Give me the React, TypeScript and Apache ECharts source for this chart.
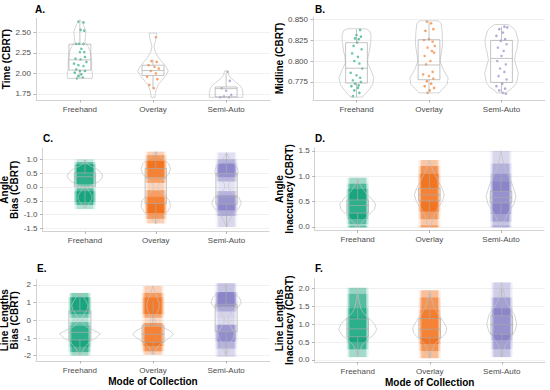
import React, { useEffect, useRef } from "react";
import * as echarts from "echarts";

const CATEGORIES = ["Freehand", "Overlay", "Semi-Auto"];
const GROUP_COLORS = ["#17a67f", "#f37521", "#8b86c9"];
const X_AXIS_TITLE = "Mode of Collection";

// ---------- Panel A: Time (CBRT)
const A_TICKS = [1.75, 2.0, 2.25, 2.5];
const A_FREEHAND_POINTS = [[-0.02,2.63],[0.05,2.62],[0.01,2.53],[0.06,2.52],[-0.05,2.36],[-0.01,2.36],[0.05,2.36],[0.0,2.26],[0.06,2.26],[-0.06,2.18],[0.01,2.17],[0.07,2.2],[-0.02,2.1],[0.05,2.09],[-0.05,2.05],[0.0,2.03],[0.07,2.03],[-0.07,2.01],[0.02,1.99],[-0.02,1.97],[0.04,1.95],[-0.04,1.94],[0.09,2.14],[0.02,2.3],[-0.08,2.12]];
const A_OVERLAY_POINTS = [[0.04,2.44],[-0.02,2.15],[0.05,2.14],[-0.06,2.1],[0.02,2.08],[0.08,2.06],[-0.03,2.03],[0.04,2.0],[-0.08,1.96],[0.06,1.93],[-0.05,1.86],[0.01,1.82]];
const A_SEMIAUTO_POINTS = [[0.02,2.02],[0.05,1.91],[-0.06,1.82],[0.0,1.79],[0.07,1.74],[-0.03,1.72],[0.04,1.71],[-0.08,1.71]];
const A_FREEHAND_VIOLIN = [[2.65,0.5],[2.59,3.5],[2.51,6],[2.45,5.5],[2.39,5],[2.33,8],[2.25,10.5],[2.15,11.5],[2.06,11.5],[1.98,12.5],[1.94,12]];
const A_OVERLAY_VIOLIN = [[2.49,3.7],[2.45,3.5],[2.4,2.5],[2.33,1],[2.27,2],[2.2,5],[2.14,9],[2.08,13],[2.03,15],[1.98,13],[1.92,9],[1.86,5],[1.8,3],[1.74,2],[1.71,2]];
const A_SEMIAUTO_VIOLIN = [[2.03,1.5],[1.98,2.5],[1.94,5],[1.9,9],[1.86,13],[1.82,15.5],[1.77,16.5],[1.71,16.5]];
const A_BOXES = [[1.94,2.04,2.165,2.355,2.63],[1.82,1.975,2.035,2.1,2.17],[1.71,1.715,1.815,1.835,2.0]];

// ---------- Panel B: Midline (CBRT)
const B_TICKS = [0.775, 0.8, 0.825, 0.85];
const B_FREEHAND_POINTS = [[0.05,0.837],[0.0,0.831],[0.06,0.829],[-0.02,0.827],[0.03,0.826],[0.01,0.822],[-0.04,0.818],[0.07,0.814],[-0.06,0.809],[0.02,0.805],[-0.03,0.8],[0.04,0.797],[0.08,0.791],[-0.08,0.786],[0.0,0.783],[0.05,0.78],[-0.05,0.777],[0.06,0.775],[-0.02,0.773],[0.03,0.771],[-0.07,0.77],[0.02,0.768],[-0.03,0.765],[0.04,0.762],[-0.05,0.758]];
const B_OVERLAY_POINTS = [[-0.03,0.847],[0.03,0.845],[0.06,0.838],[-0.05,0.836],[0.0,0.826],[-0.07,0.825],[0.05,0.823],[0.08,0.818],[-0.02,0.816],[0.04,0.812],[0.07,0.81],[-0.06,0.806],[0.02,0.8],[-0.04,0.796],[0.05,0.787],[-0.08,0.784],[0.0,0.782],[0.06,0.779],[-0.03,0.776],[0.03,0.773],[-0.06,0.77],[0.07,0.768],[0.01,0.765],[-0.02,0.762]];
const B_SEMIAUTO_POINTS = [[0.04,0.841],[0.08,0.84],[-0.03,0.838],[0.02,0.834],[-0.07,0.83],[0.05,0.826],[-0.01,0.824],[0.07,0.82],[-0.05,0.816],[0.03,0.812],[0.0,0.806],[-0.06,0.8],[0.06,0.796],[-0.02,0.791],[0.04,0.787],[-0.04,0.782],[0.07,0.778],[0.01,0.773],[-0.07,0.77],[0.05,0.767],[-0.03,0.765],[0.02,0.762],[0.06,0.761]];
const B_FREEHAND_VIOLIN = [[0.8385,9],[0.836,13],[0.83,14.5],[0.822,14],[0.813,13],[0.805,11.5],[0.798,11],[0.79,14],[0.78,17.3],[0.772,16],[0.765,12],[0.76,8],[0.757,6]];
const B_OVERLAY_VIOLIN = [[0.848,9],[0.845,12],[0.835,13],[0.82,13.5],[0.808,12],[0.8,11],[0.79,14],[0.78,19],[0.772,18],[0.766,13],[0.762,10]];
const B_SEMIAUTO_VIOLIN = [[0.8435,6.7],[0.84,11],[0.836,14],[0.825,16.5],[0.815,15.5],[0.809,14],[0.801,13],[0.7855,16.7],[0.774,15],[0.768,11],[0.764,6],[0.762,5]];
const B_BOXES = [[0.757,0.7738,0.7914,0.8219,0.838],[0.762,0.7777,0.7953,0.8254,0.847],[0.762,0.7745,0.8031,0.8246,0.841]];

// ---------- Panel C: Angle Bias (CBRT)  strips: [from, to, density]
const C_TICKS = [-1.5, -1.0, -0.5, 0.0, 0.5, 1.0];
const C_FREEHAND_STRIP = [[0.9,1.0,0.15],[0.82,0.9,0.5],[0.1,0.82,1],[0.04,0.1,0.55],[-0.05,0.04,0.15],[-0.15,-0.05,0.55],[-0.55,-0.15,1],[-0.65,-0.55,0.6],[-0.8,-0.65,0.2]];
const C_OVERLAY_STRIP = [[1.15,1.28,0.2],[0.95,1.15,0.55],[0.35,0.95,1],[0.15,0.35,0.6],[-0.12,0.15,0.2],[-0.35,-0.12,0.6],[-0.95,-0.35,1],[-1.15,-0.95,0.55],[-1.32,-1.15,0.2]];
const C_SEMIAUTO_STRIP = [[1.0,1.25,0.15],[0.85,1.0,0.45],[0.35,0.85,0.95],[0.2,0.35,0.5],[-0.15,0.2,0.15],[-0.3,-0.15,0.5],[-0.85,-0.3,0.95],[-1.05,-0.85,0.5],[-1.45,-1.05,0.2]];
const C_FREEHAND_VIOLIN = [[0.98,0],[0.85,2],[0.75,6],[0.65,12],[0.5,17],[0.4,18],[0.3,17],[0.2,14],[0.1,9],[0.03,4],[-0.05,2],[-0.15,4],[-0.3,7],[-0.45,7],[-0.6,4],[-0.75,1]];
const C_OVERLAY_VIOLIN = [[1.28,0],[1.15,3],[1.0,8],[0.85,13],[0.65,15],[0.45,13],[0.3,8],[0.15,4],[0.0,2],[-0.15,4],[-0.3,9],[-0.5,14],[-0.7,15],[-0.9,12],[-1.05,7],[-1.2,3],[-1.32,0]];
const C_SEMIAUTO_VIOLIN = [[1.25,0],[1.1,2],[0.9,6],[0.7,11],[0.55,12],[0.4,10],[0.25,5],[0.1,2],[-0.05,2],[-0.2,6],[-0.4,13],[-0.6,15],[-0.8,12],[-1.0,6],[-1.2,3],[-1.45,0]];
const C_BOXES = [[-0.72,0.01,0.37,0.51,0.98],[-1.32,-0.6,0.33,0.67,1.27],[-1.44,-0.62,-0.36,0.49,1.2]];

// ---------- Panel D: Angle Inaccuracy (CBRT)
const D_TICKS = [0.0, 0.5, 1.0, 1.5];
const D_FREEHAND_STRIP = [[0.85,0.97,0.25],[0.75,0.85,0.6],[0.15,0.75,1],[0.05,0.15,0.55],[0.02,0.05,0.2],[-0.012,0.02,0.55]];
const D_OVERLAY_STRIP = [[1.2,1.32,0.25],[1.05,1.2,0.6],[0.3,1.05,1],[0.15,0.3,0.55],[0.03,0.15,0.25],[-0.012,0.03,0.5]];
const D_SEMIAUTO_STRIP = [[1.25,1.5,0.2],[1.05,1.25,0.45],[0.9,1.05,0.75],[0.25,0.9,1],[0.1,0.25,0.6],[0.03,0.1,0.3],[-0.012,0.03,0.5]];
const D_FREEHAND_VIOLIN = [[0.96,0],[0.85,2],[0.75,5],[0.65,9],[0.55,14],[0.45,18],[0.35,17],[0.25,12],[0.15,7],[0.05,3],[0.0,2]];
const D_OVERLAY_VIOLIN = [[1.32,0],[1.2,2],[1.05,5],[0.9,9],[0.75,13],[0.63,15],[0.5,13],[0.35,8],[0.2,4],[0.05,2],[0.0,1]];
const D_SEMIAUTO_VIOLIN = [[1.5,0],[1.3,2],[1.1,5],[0.95,9],[0.8,12],[0.6,15],[0.45,13],[0.3,8],[0.15,4],[0.05,2],[0.0,1]];
const D_BOXES = [[0.0,0.27,0.42,0.53,0.92],[0.14,0.51,0.63,0.76,1.13],[0.12,0.47,0.58,0.7,1.05]];

// ---------- Panel E: Line Lengths Bias (CBRT)
const E_TICKS = [-2, -1, 0, 1, 2];
const E_FREEHAND_STRIP = [[1.3,1.55,0.35],[0.35,1.3,1],[0.15,0.35,0.5],[-0.1,0.15,0.2],[-0.3,-0.1,0.55],[-1.5,-0.3,1],[-1.8,-1.5,0.65],[-2.0,-1.8,0.25]];
const E_OVERLAY_STRIP = [[1.55,1.95,0.2],[1.3,1.55,0.55],[0.35,1.3,0.9],[0.15,0.35,0.45],[-0.15,0.15,0.15],[-0.35,-0.15,0.6],[-1.45,-0.35,1],[-1.75,-1.45,0.6],[-1.95,-1.75,0.2]];
const E_SEMIAUTO_STRIP = [[1.6,2.1,0.3],[0.75,1.6,1],[0.5,0.75,0.6],[0.1,0.5,0.25],[-0.25,0.1,0.2],[-1.2,-0.25,0.85],[-1.6,-1.2,0.45],[-2.06,-1.6,0.2]];
const E_FREEHAND_VIOLIN = [[1.55,0],[1.35,3],[1.1,6],[0.85,8],[0.6,7],[0.35,4],[0.1,2],[-0.1,2],[-0.35,6],[-0.55,13],[-0.75,20],[-0.95,17],[-1.2,10],[-1.5,5],[-1.8,2],[-2.0,0]];
const E_OVERLAY_VIOLIN = [[1.95,0],[1.6,2],[1.3,4],[1.0,6],[0.7,6],[0.4,4],[0.1,2],[-0.15,3],[-0.4,10],[-0.6,17],[-0.8,20],[-1.0,16],[-1.25,9],[-1.5,4],[-1.8,2],[-1.95,0]];
const E_SEMIAUTO_VIOLIN = [[2.1,0],[1.85,2],[1.6,7],[1.3,13],[1.0,15],[0.75,12],[0.5,6],[0.2,2],[-0.1,2],[-0.4,5],[-0.7,8],[-1.0,7],[-1.3,4],[-1.7,2],[-2.06,0]];
const E_BOXES = [[-1.95,-1.11,-0.68,0.53,1.5],[-1.9,-1.24,-0.79,-0.3,1.1],[-1.9,-0.64,0.77,0.91,2.0]];

// ---------- Panel F: Line Lengths Inaccuracy (CBRT)
const F_TICKS = [0.0, 0.5, 1.0, 1.5, 2.0];
const F_FREEHAND_STRIP = [[1.85,2.02,0.3],[1.45,1.85,0.55],[1.2,1.45,0.8],[0.5,1.2,1],[0.3,0.5,0.65],[0.08,0.3,0.25]];
const F_OVERLAY_STRIP = [[1.75,1.95,0.3],[1.4,1.75,0.6],[1.2,1.4,0.85],[0.45,1.2,1],[0.25,0.45,0.6],[0.05,0.25,0.3]];
const F_SEMIAUTO_STRIP = [[1.75,2.17,0.25],[1.45,1.75,0.6],[0.55,1.45,1],[0.3,0.55,0.6],[0.08,0.3,0.3]];
const F_FREEHAND_VIOLIN = [[2.02,0],[1.7,1],[1.45,3],[1.3,6],[1.15,12],[1.0,17],[0.85,19],[0.7,16],[0.55,9],[0.4,4],[0.25,2],[0.09,0]];
const F_OVERLAY_VIOLIN = [[1.95,0],[1.7,2],[1.5,4],[1.3,8],[1.1,13],[0.9,17],[0.75,16],[0.6,11],[0.45,5],[0.3,3],[0.05,0]];
const F_SEMIAUTO_VIOLIN = [[2.17,0],[1.9,2],[1.65,4],[1.45,8],[1.25,13],[1.0,15],[0.8,13],[0.6,8],[0.4,3],[0.2,2],[0.08,0]];
const F_BOXES = [[0.1,0.65,0.87,1.15,1.9],[0.07,0.62,0.86,1.16,1.85],[0.1,0.72,0.99,1.24,2.0]];

// ---------- drawing constants
const DENSITY_TO_HALFWIDTH = 1 / 72;
const BOX_HALF_WIDTH = 0.15;
// jitter strip layers: [half width in x units, opacity factor]
const STRIP_LAYERS = [[0.155, 0.28], [0.135, 0.55], [0.115, 1.0]];
const FONT = "'Liberation Sans', Arial, Helvetica, sans-serif";

type Panel = {
  title: string;
  titlePos: [number, number];
  grid: { left: number; top: number; width: number; height: number };
  yMin: number;
  yMax: number;
  ticks: number[];
  decimals: number;
  yName: string;
  yNameGap: number;
  xName: string;
  violins: number[][][];
  boxes: number[][];
  points?: number[][][];
  strips?: number[][][];
};

const PANELS: Panel[] = [
  { title: "A.", titlePos: [35, 4.5], grid: { left: 36, top: 18, width: 234, height: 82 }, yMin: 1.677, yMax: 2.674, ticks: A_TICKS, decimals: 2, yName: "Time (CBRT)", yNameGap: 21, xName: "",
    violins: [A_FREEHAND_VIOLIN, A_OVERLAY_VIOLIN, A_SEMIAUTO_VIOLIN], boxes: A_BOXES, points: [A_FREEHAND_POINTS, A_OVERLAY_POINTS, A_SEMIAUTO_POINTS] },
  { title: "B.", titlePos: [315, 4.5], grid: { left: 313, top: 17, width: 232, height: 83 }, yMin: 0.7535, yMax: 0.8525, ticks: B_TICKS, decimals: 3, yName: "Midline (CBRT)", yNameGap: 25, xName: "",
    violins: [B_FREEHAND_VIOLIN, B_OVERLAY_VIOLIN, B_SEMIAUTO_VIOLIN], boxes: B_BOXES, points: [B_FREEHAND_POINTS, B_OVERLAY_POINTS, B_SEMIAUTO_POINTS] },
  { title: "C.", titlePos: [43, 133.5], grid: { left: 42.5, top: 148, width: 226.5, height: 83.5 }, yMin: -1.61, yMax: 1.41, ticks: C_TICKS, decimals: 1, yName: "Angle\nBias (CBRT)", yNameGap: 19, xName: "",
    violins: [C_FREEHAND_VIOLIN, C_OVERLAY_VIOLIN, C_SEMIAUTO_VIOLIN], boxes: C_BOXES, strips: [C_FREEHAND_STRIP, C_OVERLAY_STRIP, C_SEMIAUTO_STRIP] },
  { title: "D.", titlePos: [315, 133.5], grid: { left: 314.7, top: 147.5, width: 229.3, height: 83 }, yMin: -0.074, yMax: 1.567, ticks: D_TICKS, decimals: 1, yName: "Angle\nInaccuracy (CBRT)", yNameGap: 16.4, xName: "",
    violins: [D_FREEHAND_VIOLIN, D_OVERLAY_VIOLIN, D_SEMIAUTO_VIOLIN], boxes: D_BOXES, strips: [D_FREEHAND_STRIP, D_OVERLAY_STRIP, D_SEMIAUTO_STRIP] },
  { title: "E.", titlePos: [37, 263.5], grid: { left: 36, top: 279.5, width: 234, height: 81.5 }, yMin: -2.3, yMax: 2.31, ticks: E_TICKS, decimals: 0, yName: "Line Lengths\nBias (CBRT)", yNameGap: 12, xName: X_AXIS_TITLE,
    violins: [E_FREEHAND_VIOLIN, E_OVERLAY_VIOLIN, E_SEMIAUTO_VIOLIN], boxes: E_BOXES, strips: [E_FREEHAND_STRIP, E_OVERLAY_STRIP, E_SEMIAUTO_STRIP] },
  { title: "F.", titlePos: [315, 263.5], grid: { left: 314.5, top: 278.5, width: 230.5, height: 83.5 }, yMin: -0.056, yMax: 2.28, ticks: F_TICKS, decimals: 1, yName: "Line Lengths\nInaccuracy (CBRT)", yNameGap: 16, xName: X_AXIS_TITLE,
    violins: [F_FREEHAND_VIOLIN, F_OVERLAY_VIOLIN, F_SEMIAUTO_VIOLIN], boxes: F_BOXES, strips: [F_FREEHAND_STRIP, F_OVERLAY_STRIP, F_SEMIAUTO_STRIP] },
];

function buildOption() {
  const series: any[] = [];
  PANELS.forEach((p, i) => {
    if (p.points) {
      p.points.forEach((pts, g) => {
        series.push({
          type: "scatter", xAxisIndex: i, yAxisIndex: i, z: 1, silent: true,
          symbolSize: 2.6,
          itemStyle: { color: GROUP_COLORS[g], opacity: 0.7 },
          data: pts.map(([o, y]) => [g + 1 + o, y]),
        });
      });
    }
    if (p.strips) {
      const data: number[][] = [];
      p.strips.forEach((bins, g) => bins.forEach(([y0, y1, d]) => data.push([g + 1, y0, y1, d])));
      series.push({
        type: "custom", xAxisIndex: i, yAxisIndex: i, z: 1, silent: true,
        data,
        renderItem: (_params: any, api: any) => {
          const x = api.value(0), y0 = api.value(1), y1 = api.value(2), d = api.value(3);
          const color = GROUP_COLORS[Math.round(x) - 1];
          const rect = (hw: number, op: number) => {
            const a = api.coord([x - hw, y1]);
            const b = api.coord([x + hw, y0]);
            return { type: "rect", shape: { x: a[0], y: a[1], width: b[0] - a[0], height: Math.max(1, b[1] - a[1]) }, style: { fill: color, opacity: Math.min(1, op) } };
          };
          return { type: "group", children: STRIP_LAYERS.map(([hw, f]) => rect(hw, d * f)) };
        },
      });
    }
    series.push({
      type: "custom", xAxisIndex: i, yAxisIndex: i, z: 2, silent: true,
      data: p.violins.map((prof, g) => [g + 1, prof[0][0]]),
      renderItem: (params: any, api: any) => {
        const g = params.dataIndex;
        const x = g + 1;
        const prof = p.violins[g];
        const right = prof.map(([y, d]) => api.coord([x + d * DENSITY_TO_HALFWIDTH, y]));
        const left = prof.slice().reverse().map(([y, d]) => api.coord([x - d * DENSITY_TO_HALFWIDTH, y]));
        return { type: "polygon", shape: { points: right.concat(left) }, style: { fill: "none", stroke: "#c2c2c2", lineWidth: 0.7 } };
      },
    });
    series.push({
      type: "custom", xAxisIndex: i, yAxisIndex: i, z: 3, silent: true,
      data: p.boxes.map((b, g) => [g + 1, ...b]),
      renderItem: (_params: any, api: any) => {
        const x = api.value(0), lo = api.value(1), q1 = api.value(2), med = api.value(3), q3 = api.value(4), hi = api.value(5);
        const c = (xx: number, yy: number) => api.coord([xx, yy]);
        const l = x - BOX_HALF_WIDTH, r = x + BOX_HALF_WIDTH;
        const stroke = "#ababab";
        const ln = (a: number[], b: number[]) => ({ type: "line", shape: { x1: a[0], y1: a[1], x2: b[0], y2: b[1] }, style: { stroke, lineWidth: 0.7 } });
        const tl = c(l, q3), br = c(r, q1);
        return {
          type: "group",
          children: [
            ln(c(x, q3), c(x, hi)),
            ln(c(x, q1), c(x, lo)),
            { type: "rect", shape: { x: tl[0], y: tl[1], width: br[0] - tl[0], height: br[1] - tl[1] }, style: { fill: "rgba(255,255,255,0.1)", stroke, lineWidth: 0.7 } },
            ln(c(l, med), c(r, med)),
          ],
        };
      },
    });
  });

  return {
    animation: false,
    backgroundColor: "#ffffff",
    textStyle: { fontFamily: FONT },
    title: PANELS.map((p) => ({
      text: p.title, left: p.titlePos[0], top: p.titlePos[1], padding: 0,
      textStyle: { fontSize: 10, fontWeight: "bold", color: "#000", fontFamily: FONT },
    })),
    grid: PANELS.map((p) => ({ ...p.grid, containLabel: false, outerBoundsMode: "none" })),
    xAxis: PANELS.map((p, i) => ({
      gridIndex: i, type: "value", min: 0.4, max: 3.6,
      axisLine: { show: true, onZero: false, lineStyle: { color: "#d2d2d2", width: 1 } },
      axisTick: { show: true, customValues: [1, 2, 3], length: 2.5, lineStyle: { color: "#a0a0a0", width: 0.8 } },
      axisLabel: { customValues: [1, 2, 3], formatter: (v: number) => CATEGORIES[Math.round(v) - 1] || "", color: "#4d4d4d", fontSize: 8, margin: 5, fontFamily: FONT },
      splitLine: { show: false },
      name: p.xName, nameLocation: "middle", nameGap: 15,
      nameTextStyle: { fontSize: 10, fontWeight: "bold", color: "#000", fontFamily: FONT },
    })),
    yAxis: PANELS.map((p, i) => ({
      gridIndex: i, type: "value", min: p.yMin, max: p.yMax,
      axisLine: { show: true, onZero: false, lineStyle: { color: "#d2d2d2", width: 1 } },
      axisTick: { show: true, customValues: p.ticks, length: 2.5, lineStyle: { color: "#a0a0a0", width: 0.8 } },
      axisLabel: { customValues: p.ticks, formatter: (v: number) => v.toFixed(p.decimals), color: "#4d4d4d", fontSize: 8, margin: 5, fontFamily: FONT },
      splitLine: { show: true, lineStyle: { color: "#ececec", width: 0.8 } },
      name: p.yName, nameLocation: "middle", nameGap: p.yNameGap, nameRotate: 90,
      nameTextStyle: { fontSize: 10, fontWeight: "bold", color: "#000", lineHeight: 10, fontFamily: FONT, align: "center" },
    })),
    series,
  };
}

export default function App() {
  const ref = useRef<HTMLDivElement>(null);
  useEffect(() => {
    if (!ref.current) return;
    const chart = echarts.init(ref.current, undefined, { renderer: "svg" });
    chart.setOption(buildOption() as any);
    return () => chart.dispose();
  }, []);
  return <div ref={ref} style={{ position: "fixed", left: 0, top: 0, width: 550, height: 390, background: "#fff" }} />;
}
